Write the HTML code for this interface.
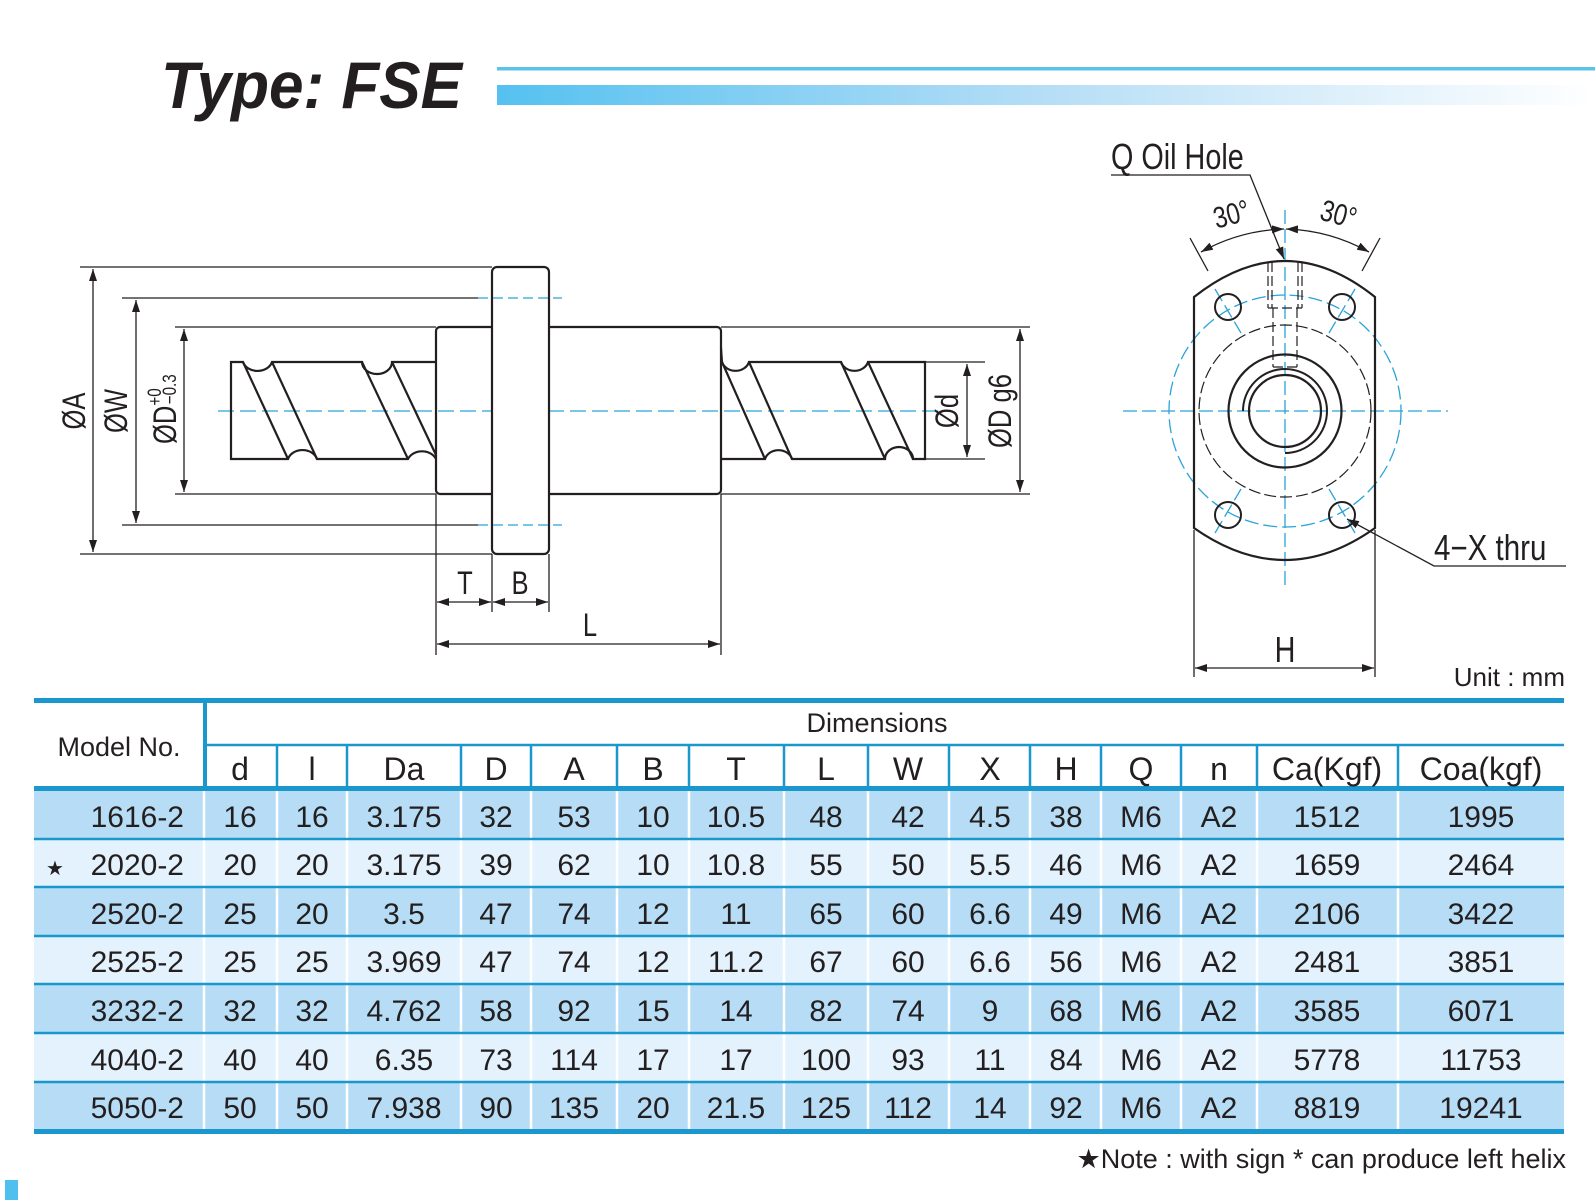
<!DOCTYPE html>
<html><head><meta charset="utf-8"><style>
html,body{margin:0;padding:0;background:#fff;}
svg{display:block;}
text{fill:#231f20;}
</style></head><body>
<svg width="1595" height="1200" viewBox="0 0 1595 1200" xmlns="http://www.w3.org/2000/svg">
<defs>
<linearGradient id="g1" x1="0" x2="1" y1="0" y2="0">
<stop offset="0" stop-color="#55c1f0"/><stop offset="0.5" stop-color="#b6def6"/><stop offset="1" stop-color="#ffffff"/>
</linearGradient>
<marker id="ar" viewBox="0 0 12 8" refX="12" refY="4" markerWidth="12" markerHeight="8" markerUnits="userSpaceOnUse" orient="auto-start-reverse">
<path d="M0,0 L12,4 L0,8 Z" fill="#231f20"/></marker>
</defs>

<!-- Title -->
<text x="0" y="108" font-family="Liberation Sans, sans-serif" font-weight="bold" font-style="italic" font-size="66" transform="translate(161,0) scale(0.94,1)">Type: FSE</text>
<rect x="497" y="67" width="1098" height="3.5" fill="#5bc2ea"/>
<rect x="497" y="85" width="1098" height="20" fill="url(#g1)"/>

<!-- LEFT DRAWING -->
<g font-family="Liberation Sans, sans-serif" font-size="32">
<line x1="218" y1="411" x2="950" y2="411" stroke="#2aa3d8" stroke-width="1.3" stroke-dasharray="16,6"/>
<g fill="none" stroke="#231f20" stroke-width="1.3">
<line x1="80" y1="267" x2="492" y2="267"/>
<line x1="80" y1="554" x2="492" y2="554"/>
<line x1="122" y1="298" x2="478" y2="298"/>
<line x1="122" y1="525" x2="478" y2="525"/>
<line x1="175" y1="327" x2="436" y2="327"/>
<line x1="175" y1="494" x2="436" y2="494"/>
<line x1="721" y1="327" x2="1030" y2="327"/>
<line x1="721" y1="494" x2="1030" y2="494"/>
<line x1="925" y1="362" x2="985" y2="362"/>
<line x1="925" y1="459" x2="985" y2="459"/>
<line x1="436" y1="494" x2="436" y2="655"/>
<line x1="492" y1="554" x2="492" y2="612"/>
<line x1="549" y1="554" x2="549" y2="612"/>
<line x1="721" y1="494" x2="721" y2="655"/>
<line x1="93" y1="269" x2="93" y2="552" marker-start="url(#ar)" marker-end="url(#ar)"/>
<line x1="136" y1="300" x2="136" y2="523" marker-start="url(#ar)" marker-end="url(#ar)"/>
<line x1="184" y1="329" x2="184" y2="492" marker-start="url(#ar)" marker-end="url(#ar)"/>
<line x1="967" y1="364" x2="967" y2="457" marker-start="url(#ar)" marker-end="url(#ar)"/>
<line x1="1020" y1="329" x2="1020" y2="492" marker-start="url(#ar)" marker-end="url(#ar)"/>
<line x1="437" y1="602" x2="491" y2="602" marker-start="url(#ar)" marker-end="url(#ar)"/>
<line x1="493" y1="602" x2="548" y2="602" marker-start="url(#ar)" marker-end="url(#ar)"/>
<line x1="437" y1="644" x2="720" y2="644" marker-start="url(#ar)" marker-end="url(#ar)"/>
</g>
<g stroke="#231f20" stroke-width="1.2" stroke-dasharray="10,5">
<line x1="494" y1="281" x2="548" y2="281"/><line x1="494" y1="313" x2="548" y2="313"/>
<line x1="494" y1="508" x2="548" y2="508"/><line x1="494" y1="541" x2="548" y2="541"/>
</g>
<g fill="none" stroke="#231f20" stroke-width="2.2">
<rect x="436" y="327" width="285" height="167" rx="4"/>
<rect x="492" y="267" width="57" height="287" rx="5" fill="#fff"/>
<path d="M436,362 L392,362 A15,12 0 0 1 362,362 L272,362 A15,12 0 0 1 243,362 L231,362 L231,459 L288,459 A15,12 0 0 1 317,459 L408,459 A15,12 0 0 1 436,459"/>
<line x1="243" y1="362" x2="288" y2="459"/><line x1="272" y1="362" x2="317" y2="459"/>
<line x1="362" y1="362" x2="408" y2="459"/><line x1="392" y1="362" x2="436" y2="455"/>
<path d="M721,348 L722,362 A14,12 0 0 0 749,362 L841,362 A14,12 0 0 0 868,362 L925,362 L925,459 L913,459 A14,12 0 0 0 885,459 L792,459 A14,12 0 0 0 765,459 L721,459"/>
<line x1="722" y1="362" x2="765" y2="459"/><line x1="749" y1="362" x2="792" y2="459"/>
<line x1="841" y1="362" x2="885" y2="459"/><line x1="868" y1="362" x2="913" y2="459"/>
</g>
<g stroke="#2aa3d8" stroke-width="1.3" stroke-dasharray="10,5">
<line x1="478" y1="298" x2="562" y2="298"/><line x1="478" y1="525" x2="562" y2="525"/>
</g>
<text transform="translate(85,411) rotate(-90) scale(0.8,1)" text-anchor="middle">ØA</text>
<text transform="translate(127,411) rotate(-90) scale(0.8,1)" text-anchor="middle">ØW</text>
<text transform="translate(176,444) rotate(-90) scale(0.8,1)">ØD<tspan font-size="19" dy="-15">+0</tspan><tspan font-size="19" dx="-20" dy="15">−0.3</tspan></text>
<text transform="translate(958,411) rotate(-90) scale(0.8,1)" text-anchor="middle">Ød</text>
<text transform="translate(1011,411) rotate(-90) scale(0.8,1)" text-anchor="middle">ØD g6</text>
<text transform="translate(465,594) scale(0.8,1)" text-anchor="middle">T</text>
<text transform="translate(520,594) scale(0.8,1)" text-anchor="middle">B</text>
<text transform="translate(590,636) scale(0.8,1)" text-anchor="middle">L</text>
</g>

<!-- RIGHT VIEW -->
<g font-family="Liberation Sans, sans-serif">
<g stroke="#2aa3d8" stroke-width="1.3" fill="none" stroke-dasharray="14,5">
<line x1="1123" y1="411" x2="1448" y2="411"/>
<line x1="1285" y1="210" x2="1285" y2="590"/>
<circle cx="1285" cy="411" r="116"/>
<line x1="1215" y1="289" x2="1241" y2="333"/>
<line x1="1355" y1="289" x2="1329" y2="333"/>
<line x1="1215" y1="533" x2="1241" y2="489"/>
<line x1="1355" y1="533" x2="1329" y2="489"/>
</g>
<g fill="none" stroke="#231f20">
<path d="M1194,297 Q1285,225 1375,297 L1375,528 Q1285,592 1194,528 Z" stroke-width="2.2"/>
<circle cx="1285" cy="411" r="86" stroke-width="1.2" stroke-dasharray="12,4"/>
<circle cx="1285" cy="411" r="56.5" stroke-width="2.2"/>
<path d="M1243,411 A42,42 0 1 1 1285,453" stroke-width="2"/>
<circle cx="1285" cy="411" r="36" stroke-width="2.2"/>
<circle cx="1228" cy="307" r="13" stroke-width="2"/>
<circle cx="1342" cy="307" r="13" stroke-width="2"/>
<circle cx="1228" cy="515" r="13" stroke-width="2"/>
<circle cx="1342" cy="515" r="13" stroke-width="2"/>
<g stroke-width="1.2" stroke-dasharray="10,4">
<line x1="1268" y1="262" x2="1268" y2="308"/><line x1="1302" y1="262" x2="1302" y2="308"/>
<line x1="1272" y1="262" x2="1272" y2="308"/><line x1="1298" y1="262" x2="1298" y2="308"/>
<line x1="1268" y1="308" x2="1302" y2="308"/>
<line x1="1273" y1="308" x2="1273" y2="367"/><line x1="1297" y1="308" x2="1297" y2="367"/>
<line x1="1273" y1="367" x2="1297" y2="367"/>
</g>
<g stroke-width="1.3">
<line x1="1190" y1="238" x2="1208" y2="271"/>
<line x1="1380" y1="238" x2="1362" y2="271"/>
<path d="M1284,229 A182,182 0 0 0 1201,252" marker-start="url(#ar)" marker-end="url(#ar)"/>
<path d="M1286,229 A182,182 0 0 1 1369,252" marker-start="url(#ar)" marker-end="url(#ar)"/>
<polyline points="1111,175 1250,175 1284,259" marker-end="url(#ar)"/>
<polyline points="1566,566 1434,566 1347,519" marker-end="url(#ar)"/>
<line x1="1194" y1="530" x2="1194" y2="677"/>
<line x1="1375" y1="530" x2="1375" y2="677"/>
<line x1="1195" y1="668" x2="1374" y2="668" marker-start="url(#ar)" marker-end="url(#ar)"/>
</g>
</g>
<text transform="translate(1111,169) scale(0.8,1)" font-size="36">Q Oil Hole</text>
<text transform="translate(1234,224) rotate(-15) scale(0.8,1)" text-anchor="middle" font-size="30">30°</text>
<text transform="translate(1336,224) rotate(15) scale(0.8,1)" text-anchor="middle" font-size="30">30°</text>
<text transform="translate(1434,560) scale(0.82,1)" font-size="36">4−X  thru</text>
<text transform="translate(1285,662) scale(0.8,1)" text-anchor="middle" font-size="36">H</text>
</g>
<text x="1565" y="686" text-anchor="end" font-family="Liberation Sans, sans-serif" font-size="26">Unit : mm</text>

<!-- TABLE -->
<g>
<rect x="34" y="791" width="1530" height="48" fill="#b6ddf5"/>
<rect x="34" y="839" width="1530" height="48" fill="#e3f2fc"/>
<rect x="34" y="887" width="1530" height="49" fill="#b6ddf5"/>
<rect x="34" y="936" width="1530" height="48" fill="#e3f2fc"/>
<rect x="34" y="984" width="1530" height="49" fill="#b6ddf5"/>
<rect x="34" y="1033" width="1530" height="49" fill="#e3f2fc"/>
<rect x="34" y="1082" width="1530" height="48" fill="#b6ddf5"/>
<g stroke="#ffffff" stroke-width="2.5">
<line x1="204" y1="791" x2="204" y2="1130"/><line x1="277" y1="791" x2="277" y2="1130"/><line x1="347" y1="791" x2="347" y2="1130"/>
<line x1="461" y1="791" x2="461" y2="1130"/><line x1="531" y1="791" x2="531" y2="1130"/><line x1="617" y1="791" x2="617" y2="1130"/>
<line x1="689" y1="791" x2="689" y2="1130"/><line x1="784" y1="791" x2="784" y2="1130"/><line x1="868" y1="791" x2="868" y2="1130"/>
<line x1="949" y1="791" x2="949" y2="1130"/><line x1="1030" y1="791" x2="1030" y2="1130"/><line x1="1101" y1="791" x2="1101" y2="1130"/>
<line x1="1181" y1="791" x2="1181" y2="1130"/><line x1="1257" y1="791" x2="1257" y2="1130"/><line x1="1398" y1="791" x2="1398" y2="1130"/>
</g>
<g stroke="#1a97cc" stroke-width="2.5">
<line x1="277" y1="746" x2="277" y2="788"/><line x1="347" y1="746" x2="347" y2="788"/>
<line x1="461" y1="746" x2="461" y2="788"/><line x1="531" y1="746" x2="531" y2="788"/><line x1="617" y1="746" x2="617" y2="788"/>
<line x1="689" y1="746" x2="689" y2="788"/><line x1="784" y1="746" x2="784" y2="788"/><line x1="868" y1="746" x2="868" y2="788"/>
<line x1="949" y1="746" x2="949" y2="788"/><line x1="1030" y1="746" x2="1030" y2="788"/><line x1="1101" y1="746" x2="1101" y2="788"/>
<line x1="1181" y1="746" x2="1181" y2="788"/><line x1="1257" y1="746" x2="1257" y2="788"/><line x1="1398" y1="746" x2="1398" y2="788"/>
<line x1="34" y1="839" x2="1564" y2="839"/><line x1="34" y1="887" x2="1564" y2="887"/><line x1="34" y1="936" x2="1564" y2="936"/>
<line x1="34" y1="984" x2="1564" y2="984"/><line x1="34" y1="1033" x2="1564" y2="1033"/><line x1="34" y1="1082" x2="1564" y2="1082"/>
<line x1="206" y1="745" x2="1564" y2="745"/>
</g>
<rect x="34" y="698" width="1530" height="5" fill="#1a97cc"/>
<rect x="203" y="700" width="4" height="90" fill="#1a97cc"/>
<rect x="34" y="786" width="1530" height="5" fill="#1a97cc"/>
<rect x="34" y="1129" width="1530" height="5" fill="#1a97cc"/>
</g>
<g font-family="Liberation Sans, sans-serif">
<text x="119" y="756" text-anchor="middle" font-size="27">Model No.</text>
<text x="877" y="732" text-anchor="middle" font-size="27">Dimensions</text>
<g font-size="32" text-anchor="middle">
<text x="240" y="780">d</text><text x="312" y="780">l</text><text x="404" y="780">Da</text><text x="496" y="780">D</text>
<text x="574" y="780">A</text><text x="653" y="780">B</text><text x="736" y="780">T</text><text x="826" y="780">L</text>
<text x="908" y="780">W</text><text x="990" y="780">X</text><text x="1066" y="780">H</text><text x="1141" y="780">Q</text>
<text x="1219" y="780">n</text><text x="1327" y="780">Ca(Kgf)</text><text x="1481" y="780">Coa(kgf)</text>
</g>
<text x="55" y="875" text-anchor="middle" font-size="20">★</text>
</g>
<g font-family="Liberation Sans, sans-serif" font-size="30">
<g text-anchor="end">
<text x="184" y="827">1616-2</text><text x="184" y="875">2020-2</text><text x="184" y="924">2520-2</text>
<text x="184" y="972">2525-2</text><text x="184" y="1021">3232-2</text><text x="184" y="1070">4040-2</text><text x="184" y="1118">5050-2</text>
</g>
<g text-anchor="middle">
<g transform="translate(0,827)"><text x="240">16</text><text x="312">16</text><text x="404">3.175</text><text x="496">32</text><text x="574">53</text><text x="653">10</text><text x="736">10.5</text><text x="826">48</text><text x="908">42</text><text x="990">4.5</text><text x="1066">38</text><text x="1141">M6</text><text x="1219">A2</text><text x="1327">1512</text><text x="1481">1995</text></g>
<g transform="translate(0,875)"><text x="240">20</text><text x="312">20</text><text x="404">3.175</text><text x="496">39</text><text x="574">62</text><text x="653">10</text><text x="736">10.8</text><text x="826">55</text><text x="908">50</text><text x="990">5.5</text><text x="1066">46</text><text x="1141">M6</text><text x="1219">A2</text><text x="1327">1659</text><text x="1481">2464</text></g>
<g transform="translate(0,924)"><text x="240">25</text><text x="312">20</text><text x="404">3.5</text><text x="496">47</text><text x="574">74</text><text x="653">12</text><text x="736">11</text><text x="826">65</text><text x="908">60</text><text x="990">6.6</text><text x="1066">49</text><text x="1141">M6</text><text x="1219">A2</text><text x="1327">2106</text><text x="1481">3422</text></g>
<g transform="translate(0,972)"><text x="240">25</text><text x="312">25</text><text x="404">3.969</text><text x="496">47</text><text x="574">74</text><text x="653">12</text><text x="736">11.2</text><text x="826">67</text><text x="908">60</text><text x="990">6.6</text><text x="1066">56</text><text x="1141">M6</text><text x="1219">A2</text><text x="1327">2481</text><text x="1481">3851</text></g>
<g transform="translate(0,1021)"><text x="240">32</text><text x="312">32</text><text x="404">4.762</text><text x="496">58</text><text x="574">92</text><text x="653">15</text><text x="736">14</text><text x="826">82</text><text x="908">74</text><text x="990">9</text><text x="1066">68</text><text x="1141">M6</text><text x="1219">A2</text><text x="1327">3585</text><text x="1481">6071</text></g>
<g transform="translate(0,1070)"><text x="240">40</text><text x="312">40</text><text x="404">6.35</text><text x="496">73</text><text x="574">114</text><text x="653">17</text><text x="736">17</text><text x="826">100</text><text x="908">93</text><text x="990">11</text><text x="1066">84</text><text x="1141">M6</text><text x="1219">A2</text><text x="1327">5778</text><text x="1481">11753</text></g>
<g transform="translate(0,1118)"><text x="240">50</text><text x="312">50</text><text x="404">7.938</text><text x="496">90</text><text x="574">135</text><text x="653">20</text><text x="736">21.5</text><text x="826">125</text><text x="908">112</text><text x="990">14</text><text x="1066">92</text><text x="1141">M6</text><text x="1219">A2</text><text x="1327">8819</text><text x="1481">19241</text></g>
</g>
</g>
<text x="1566" y="1168" text-anchor="end" font-family="Liberation Sans, sans-serif" font-size="27">★Note : with sign * can produce left helix</text>
<rect x="5" y="1180" width="13" height="20" fill="#4fc0ee"/>
</svg>
</body></html>
